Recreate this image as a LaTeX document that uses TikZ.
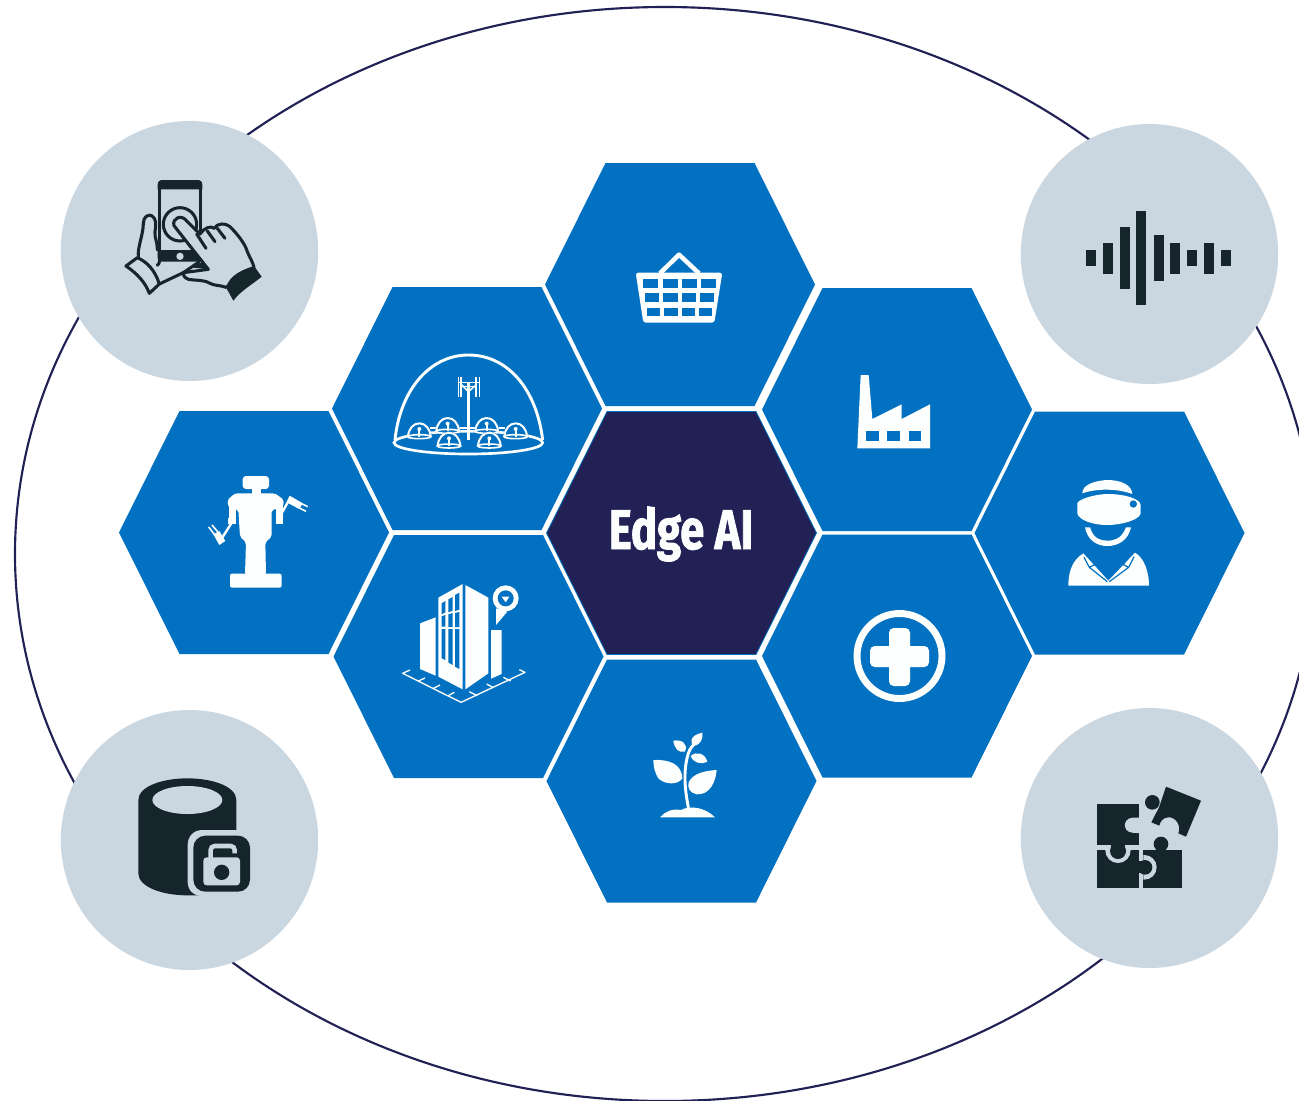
\documentclass[tikz,border=0pt]{standalone}
\usepackage{fontspec}
\usetikzlibrary{shapes.geometric}
\newfontfamily\edgefont[BoldFeatures={FakeBold=1.6}]{Fira Sans}
\definecolor{hexblue}{HTML}{0271C1}
\definecolor{hexnavy}{HTML}{212155}
\definecolor{badgecol}{HTML}{CAD7E1}
\definecolor{icondark}{HTML}{16242C}
\definecolor{iconwhite}{HTML}{FDFEFE}
\tikzset{
  badge/.style={ellipse,fill=badgecol,draw=none,inner sep=0pt,minimum width=193pt,minimum height=195pt},
  darkline/.style={draw=icondark,line width=2.3pt,line join=round,line cap=round},
  zoomed/.style={x=.25pt,y=-.25pt},
}
\newcommand{\hexa}[3]{\fill[#3] (#1-74.5,#2-121.5) -- (#1+74.5,#2-121.5) -- (#1+135,#2) -- (#1+74.5,#2+121.5) -- (#1-74.5,#2+121.5) -- (#1-135,#2) -- cycle;}
\begin{document}
\begin{tikzpicture}[x=.75pt,y=-.75pt]
\useasboundingbox (0,0) rectangle (1299,1100);
\clip (0,0) rectangle (1299,1100);
\fill[white] (0,0) rectangle (1299,1100);
\draw[hexnavy,line width=1.6pt] (665,554) ellipse [x radius=650,y radius=547];

\node[badge] (tl) at (189.5,251) {};
\node[badge] (tr) at (1149.5,254) {};
\node[badge] (bl) at (189.5,840) {};
\node[badge] (br) at (1149.5,838) {};

% hexagons
\hexa{680}{284.5}{hexblue}
\hexa{467}{408.5}{hexblue}
\hexa{897}{409.5}{hexblue}
\hexa{254}{532.5}{hexblue}
\hexa{468.5}{656.5}{hexblue}
\hexa{897}{656}{hexblue}
\hexa{1109.5}{533}{hexblue}
\hexa{681.5}{781}{hexblue}
\hexa{681.5}{533}{hexnavy}
\draw[hexblue,line width=.6pt] (607,411.5) -- (756,411.5) -- (816.5,533) -- (756,654.5) -- (607,654.5) -- (546.5,533) -- cycle;
\node[text=iconwhite,inner sep=0pt] (edge) at (681,534) {\edgefont\bfseries\fontsize{42}{42}\selectfont\scalebox{.78}[1]{Edge AI}};

% touch phone
\begin{scope}[shift={(100,160)},zoomed]
  \fill[icondark] (173,75) .. controls (173,65) and (178,60) .. (188,60) -- (292,60) .. controls (302,60) and (307,65) .. (307,75) -- (307,88) -- (173,88) -- cycle;
  \fill[icondark] (173,270) -- (300,270) -- (300,305) -- (185,305) .. controls (178,305) and (173,300) .. (173,295) -- cycle;
  \draw[darkline] (178,85) -- (178,275);
  \draw[darkline] (302,85) -- (302,215);
  \fill[badgecol] (240,289) circle (11);
  \draw[darkline] (240,193) circle (50);
  % left hand
  \draw[darkline,fill=badgecol] (115,292) .. controls (112,260) and (130,225) .. (130,190) .. controls (130,170) and (145,162) .. (155,167) .. controls (170,175) and (168,195) .. (165,215) .. controls (163,235) and (172,240) .. (172,270);
  \draw[darkline] (172,316) .. controls (180,310) and (180,300) .. (178,280);
  \draw[darkline,fill=badgecol] (78,318) -- (112,293) .. controls (140,305) and (165,330) .. (178,372) -- (148,400) .. controls (135,365) and (110,340) .. (78,318) -- cycle;
  \draw[darkline] (178,372) -- (250,338) -- (297,306);
  % right hand
  \draw[darkline,fill=badgecol] (222,197) .. controls (215,175) and (245,160) .. (262,185) -- (300,222) .. controls (310,205) and (335,195) .. (342,205) .. controls (352,190) and (375,187) .. (390,200) .. controls (410,220) and (435,250) .. (442,275) .. controls (450,295) and (458,305) .. (462,322) -- (378,382) .. controls (360,375) and (345,378) .. (330,370) .. controls (310,358) and (285,362) .. (265,358) .. controls (252,352) and (248,345) .. (250,338) -- (325,328) -- cycle;
  \draw[darkline] (290,222) -- (318,265);
  \draw[darkline] (322,213) -- (345,245);
  \draw[darkline] (352,205) -- (375,235);
  \fill[icondark] (272,322) -- (308,306) -- (325,328) -- cycle;
  \fill[icondark] (378,382) .. controls (390,345) and (425,330) .. (462,318) -- (485,350) .. controls (455,375) and (425,390) .. (400,422) -- cycle;
\end{scope}

% waveform
\begin{scope}[shift={(1075,200)},zoomed]
  \foreach \xa/\ya/\yb in {32/151/198, 83/128/221, 134/80/268, 184/33/316, 236/104/244, 286/128/221, 336/151/198, 387/128/221, 437/151/198}{
    \fill[icondark] (\xa,\ya) rectangle ++(30,\yb-\ya);
  }
\end{scope}

% database with lock
\begin{scope}[shift={(125,770)},zoomed]
  \fill[icondark] (40,90) .. controls (40,50) and (110,25) .. (187,25) .. controls (265,25) and (334,50) .. (334,90) -- (334,200) -- (230,376) -- (187,376) .. controls (110,376) and (40,350) .. (40,310) -- cycle;
  \fill[badgecol] (187,90) ellipse [x radius=105,y radius=42];
  \fill[badgecol] (232,180) -- (360,180) .. controls (385,180) and (395,195) .. (395,215) -- (395,378) -- (232,378) .. controls (205,378) and (188,360) .. (188,335) -- (188,225) .. controls (188,200) and (205,180) .. (232,180) -- cycle;
  \fill[icondark,rounded corners=9pt] (205,197) rectangle (375,365);
  \fill[badgecol,rounded corners=2.5pt] (235,262) rectangle (345,346);
  \draw[badgecol,line width=3.4pt,rounded corners=3pt] (257,264) -- (257,228) -- (329,228) -- (329,250);
  \fill[icondark] (290,307) circle (23);
\end{scope}

% puzzle
\begin{scope}[shift={(1080,775)},zoomed]
  \fill[icondark] (52,87) rectangle (178,211);
  \fill[badgecol] (178,128) -- (158,128) .. controls (140,128) and (132,145) .. (135,155) .. controls (138,170) and (150,175) .. (178,174) -- cycle;
  \fill[icondark] (52,224) rectangle (178,340);
  \fill[icondark] (190,225) rectangle (306,340);
  \begin{scope}
    \clip (40,224) rectangle (178,300);
    \fill[badgecol] (114,226) circle (38);
  \end{scope}
  \fill[icondark] (92,205) rectangle (136,228);
  \fill[icondark] (114,228) circle (24);
  \begin{scope}
    \clip (190,230) rectangle (260,330);
    \fill[badgecol] (193,277) circle (37);
  \end{scope}
  \fill[icondark] (175,259) rectangle (195,295);
  \fill[icondark] (195,277) circle (22);
  \fill[icondark] (243,207) circle (22);
  \fill[icondark] (228,207) rectangle (258,228);
  \fill[icondark] (258,35) -- (363,77) -- (318,185) -- (295,175) .. controls (305,150) and (285,125) .. (265,127) .. controls (250,127) and (240,140) .. (238,152) -- (214,142) -- (238,95) -- cycle;
  \fill[icondark] (217,82) circle (22);
\end{scope}

% basket
\begin{scope}[shift={(625,240)},zoomed]
  \draw[iconwhite,line width=3.4pt,line join=round] (105,100) -- (162,44) -- (222,100);
  \fill[iconwhite,rounded corners=2pt] (32,98) -- (292,98) -- (268,248) -- (55,248) -- cycle;
  \foreach \ya/\yb/\l/\r in {118/145/55/273, 160/187/60/268, 203/228/66/262}{
    \pgfmathsetmacro{\w}{(\r-\l+13)/4}
    \foreach \i in {0,1,2,3}{
      \fill[hexblue] ({\l+\i*\w},\ya) rectangle ({\l+(\i+1)*\w-13},\yb);
    }
  }
\end{scope}

% dome
\begin{scope}[shift={(380,340)},zoomed]
  \draw[iconwhite,line width=2.2pt,line join=round] (45,300) .. controls (60,150) and (150,45) .. (265,45) .. controls (385,45) and (470,150) .. (488,300);
  \draw[iconwhite,line width=2pt] (265,308) ellipse [x radius=223,y radius=34];
  \draw[iconwhite,line width=2pt] (265,125) -- (265,300);
  \draw[iconwhite,line width=1.2pt] (235,112) -- (235,170) (243,112) -- (243,170) (288,112) -- (288,170) (298,112) -- (298,170) (235,128) -- (298,128) (243,140) -- (290,140);
  \draw[iconwhite,line width=1.2pt] (265,155) -- (245,135) (265,155) -- (288,135);
  \draw[iconwhite,line width=1.4pt] (150,265) -- (375,265);
  \foreach \cx/\cy in {118/284,203/268,407/284,320/268,207/312,328/312}{
    \fill[hexblue] (\cx-38,\cy+8) .. controls (\cx-35,\cy-20) and (\cx-20,\cy-38) .. (\cx,\cy-38) .. controls (\cx+20,\cy-38) and (\cx+35,\cy-20) .. (\cx+38,\cy+8) .. controls (\cx+25,\cy+14) and (\cx-25,\cy+14) .. (\cx-38,\cy+8) -- cycle;
    \draw[iconwhite,line width=1.5pt,line join=round] (\cx-34,\cy+5) .. controls (\cx-32,\cy-18) and (\cx-18,\cy-34) .. (\cx,\cy-34) .. controls (\cx+18,\cy-34) and (\cx+32,\cy-18) .. (\cx+34,\cy+5);
    \draw[iconwhite,line width=1.2pt] (\cx,\cy+6) ellipse [x radius=35,y radius=6];
    \draw[iconwhite,line width=1.4pt] (\cx,\cy-18) -- (\cx,\cy+6);
    \fill[iconwhite] (\cx,\cy-17) circle (6);
  }
\end{scope}

% factory
\begin{scope}[shift={(840,365)},zoomed]
  \fill[iconwhite] (52,250) -- (62,30) -- (86,30) -- (97,162) -- (185,118) -- (185,162) -- (270,118) -- (270,250) -- cycle;
  \foreach \xa in {78,142,206}{ \fill[hexblue] (\xa,198) rectangle ++(38,30); }
\end{scope}

% robot
\begin{scope}[shift={(190,465)},zoomed]
  \fill[iconwhite,rounded corners=2.5pt] (158,33) rectangle (237,72);
  \fill[iconwhite] (185,70) rectangle (212,88);
  \fill[iconwhite,rounded corners=1.5pt] (112,105) -- (135,85) -- (255,85) -- (282,105) -- (278,128) -- (245,135) -- (245,215) -- (226,232) -- (228,328) -- (165,328) -- (168,232) -- (150,215) -- (145,135) -- (116,128) -- cycle;
  \fill[iconwhite,rounded corners=1.5pt] (120,326) rectangle (275,368);
  \fill[iconwhite] (116,120) rectangle (138,165);
  \fill[iconwhite] (113,160) rectangle (139,176);
  \draw[iconwhite,line width=1.8pt] (126,172) -- (92,225);
  \fill[iconwhite] (70,208) -- (88,198) -- (106,228) -- (88,240) -- cycle;
  \draw[iconwhite,line width=1.2pt] (73,208) -- (56,186) (83,200) -- (66,180);
  \fill[iconwhite] (259,120) rectangle (280,176);
  \draw[iconwhite,line width=1.8pt] (272,150) -- (300,100);
  \fill[iconwhite] (299,92) -- (338,115) -- (328,132) -- (290,112) -- cycle;
  \draw[iconwhite,line width=1.2pt] (333,115) -- (353,125) (326,128) -- (348,139);
\end{scope}

% smart building
\begin{scope}[shift={(390,575)},zoomed]
  \fill[iconwhite] (90,145) -- (137,127) -- (137,302) -- (90,282) -- cycle;
  \fill[iconwhite] (145,68) -- (218,27) -- (218,343) -- (145,305) -- cycle;
  \fill[hexblue] (155,85) -- (166,78) -- (166,112) -- (155,118) -- cycle;
  \fill[hexblue] (175,73) -- (188,66) -- (188,107) -- (175,112) -- cycle;
  \fill[hexblue] (195,60) -- (208,53) -- (208,104) -- (195,108) -- cycle;
  \fill[hexblue] (155,124) -- (166,120) -- (166,155) -- (155,155) -- cycle;
  \fill[hexblue] (175,118) -- (188,114) -- (188,156) -- (175,156) -- cycle;
  \fill[hexblue] (195,114) -- (208,111) -- (208,156) -- (195,156) -- cycle;
  \fill[hexblue] (155,162) -- (166,162) -- (166,255) -- (155,250) -- cycle;
  \fill[hexblue] (175,162) -- (188,162) -- (188,270) -- (175,262) -- cycle;
  \fill[hexblue] (195,162) -- (208,162) -- (208,282) -- (195,275) -- cycle;
  \fill[iconwhite] (226,30) -- (295,68) -- (295,295) -- (226,343) -- cycle;
  \fill[iconwhite] (303,165) -- (335,165) -- (335,297) -- (303,311) -- cycle;
  \fill[iconwhite] (318,150) -- (318,100) -- (352,110) -- cycle;
  \fill[iconwhite] (347,70) circle (39);
  \fill[hexblue] (347,70) circle (24);
  \fill[iconwhite] (335,65) -- (358,65) -- (347,82) -- cycle;
  \draw[iconwhite,line width=1pt,line join=round] (60,285) -- (38,295) -- (213,382) -- (405,292) -- (388,284);
  \draw[iconwhite,line width=1pt] (85,318) -- (105,309) (130,340) -- (150,330) (175,362) -- (193,352) (262,362) -- (238,350) (310,338) -- (290,327) (362,318) -- (340,307);
\end{scope}

% VR person
\begin{scope}[shift={(1050,470)},zoomed]
  \fill[iconwhite] (97,70) .. controls (97,45) and (130,33) .. (170,30) .. controls (215,30) and (245,45) .. (247,72) .. controls (200,55) and (140,55) .. (97,70) -- cycle;
  \fill[iconwhite] (82,100) .. controls (82,90) and (130,72) .. (175,72) .. controls (220,72) and (270,85) .. (272,105) -- (272,130) .. controls (268,150) and (215,165) .. (170,165) .. controls (130,165) and (85,150) .. (82,130) -- cycle;
  \fill[hexblue] (250,102) circle (11);
  \fill[iconwhite] (105,172) -- (120,172) .. controls (130,205) and (150,212) .. (172,212) .. controls (195,212) and (215,205) .. (228,172) -- (243,172) .. controls (235,210) and (205,228) .. (172,228) .. controls (140,228) and (112,210) .. (105,172) -- cycle;
  \fill[iconwhite] (55,347) .. controls (55,310) and (65,270) .. (100,250) -- (175,332) -- (255,248) .. controls (285,265) and (297,310) .. (297,347) -- cycle;
  \draw[hexblue,line width=.9pt,line join=round] (102,262) -- (118,292) -- (172,335) (118,292) -- (134,284) -- (116,254);
  \draw[hexblue,line width=.9pt,line join=round] (252,260) -- (236,292) -- (178,335) (236,292) -- (220,284) -- (238,254);
\end{scope}

% plus
\draw[iconwhite,line width=5.2pt] (899.5,656) circle (42.5);
\fill[iconwhite,rounded corners=3.5pt] (889,628) rectangle (910,686);
\fill[iconwhite,rounded corners=3.5pt] (870,646) rectangle (929,667);

% plant
\begin{scope}[shift={(625,720)},zoomed]
  \draw[iconwhite,line width=2.2pt,line cap=round] (190,262) .. controls (178,200) and (175,150) .. (190,100) .. controls (192,92) and (196,85) .. (205,75);
  \fill[iconwhite] (85,120) .. controls (130,118) and (170,130) .. (172,175) .. controls (160,195) and (120,195) .. (100,175) .. controls (90,160) and (85,140) .. (85,120) -- cycle;
  \fill[iconwhite] (275,150) .. controls (272,185) and (255,225) .. (215,223) .. controls (195,218) and (185,205) .. (192,185) .. controls (205,160) and (240,152) .. (275,150) -- cycle;
  \fill[iconwhite] (232,38) .. controls (236,55) and (225,75) .. (208,78) .. controls (192,70) and (195,45) .. (232,38) -- cycle;
  \fill[iconwhite] (145,62) .. controls (170,58) and (190,70) .. (180,95) .. controls (160,100) and (148,85) .. (145,62) -- cycle;
  \fill[iconwhite] (197,108) .. controls (215,92) and (240,100) .. (247,125) .. controls (225,135) and (205,128) .. (197,108) -- cycle;
  \fill[iconwhite] (105,292) .. controls (120,275) and (140,265) .. (168,270) .. controls (195,255) and (240,262) .. (270,292) -- cycle;
\end{scope}
\end{tikzpicture}
\end{document}
